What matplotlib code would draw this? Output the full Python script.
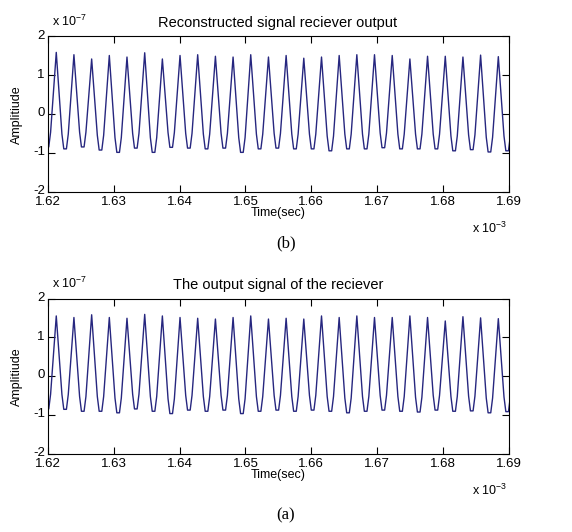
import matplotlib.pyplot as plt
from matplotlib.transforms import ScaledTranslation

plt.rcParams['font.family'] = ['Liberation Sans', 'DejaVu Sans']
plt.rcParams['mathtext.default'] = 'regular'
plt.rcParams['axes.unicode_minus'] = False

# time of each peak / trough in ms, amplitudes in units of 1e-7
peak_t = [1.62130, 1.62398, 1.62667, 1.62935, 1.63203, 1.63472, 1.63740,
          1.64008, 1.64276, 1.64545, 1.64813, 1.65081, 1.65350, 1.65618,
          1.65886, 1.66155, 1.66423, 1.66691, 1.66959, 1.67228, 1.67496,
          1.67764, 1.68033, 1.68301, 1.68569, 1.68838]
trough_t = [1.61996, 1.62264, 1.62532, 1.62801, 1.63069, 1.63337, 1.63606,
            1.63874, 1.64142, 1.64410, 1.64679, 1.64947, 1.65215, 1.65484,
            1.65752, 1.66020, 1.66289, 1.66557, 1.66825, 1.67093, 1.67362,
            1.67630, 1.67898, 1.68167, 1.68435, 1.68703, 1.68972]

# (b) reconstructed signal
peak_b = [1.59, 1.53, 1.42, 1.51, 1.47, 1.58, 1.42, 1.51, 1.53, 1.49, 1.47, 1.53,
          1.47, 1.51, 1.44, 1.47, 1.51, 1.53, 1.53, 1.51, 1.42, 1.49, 1.49, 1.47,
          1.52, 1.48]
trough_b = [-0.85, -0.90, -0.85, -0.93, -0.99, -0.88, -0.99, -0.86, -0.88, -0.90,
            -0.88, -0.99, -0.90, -0.88, -0.90, -0.90, -0.95, -0.90, -0.90, -0.87,
            -0.90, -0.90, -0.90, -0.95, -0.92, -0.98, -0.95]

# (a) receiver output
peak_a = [1.55, 1.51, 1.58, 1.51, 1.49, 1.59, 1.55, 1.51, 1.49, 1.47, 1.51, 1.55,
          1.47, 1.49, 1.47, 1.55, 1.51, 1.55, 1.51, 1.51, 1.55, 1.51, 1.42, 1.53,
          1.50, 1.48]
trough_a = [-0.85, -0.86, -0.91, -0.91, -0.95, -0.85, -0.91, -0.97, -0.88, -0.91,
            -0.88, -0.97, -0.91, -0.88, -0.91, -0.88, -0.91, -0.95, -0.91, -0.88,
            -0.91, -0.93, -0.88, -0.91, -0.90, -0.95, -0.92]

x_ticks = [1.62, 1.63, 1.64, 1.65, 1.66, 1.67, 1.68, 1.69]
x_labels = ['1.62', '1.63', '1.64', '1.65', '1.66', '1.67', '1.68', '1.69']
y_ticks = [-2, -1, 0, 1, 2]
y_labels = ['-2', '-1', '0', '1', '2']

W, H = 572, 532


def fx(x):
    return x / W


def fy(y):
    return 1 - y / H


def waveform(pt, pv, tt, tv, half=0.0002, sh=0.00048, rise=0.38):
    # flat-ish rounded bottom at every trough, straight flanks up to the peaks
    t, v = [], []
    for i in range(len(tt)):
        t += [tt[i] - sh, tt[i] - half, tt[i] + half, tt[i] + sh]
        v += [tv[i] + rise, tv[i], tv[i], tv[i] + rise]
        if i < len(pt):
            t.append(pt[i])
            v.append(pv[i])
    return t, v


fig = plt.figure(figsize=(W / 100, H / 100), dpi=100)

panels = [
    (36.5, peak_b, trough_b, 'Reconstructed signal reciever output', '(b)', 243),
    (298.5, peak_a, trough_a, 'The output signal of the reciever', '(a)', 515),
]

for top, pv, tv, title, tag, tag_y in panels:
    ax = fig.add_axes([fx(47.7), fy(top + 155), fx(461.3), 155 / H])
    t, v = waveform(peak_t, pv, trough_t, tv)
    ax.plot(t, v, color='#26267f', lw=1.0)
    ax.set_xlim(1.62, 1.69)
    ax.set_ylim(-2, 2)
    ax.set_xticks(x_ticks)
    ax.set_xticklabels(x_labels)
    ax.set_yticks(y_ticks)
    ax.set_yticklabels(y_labels)
    ax.tick_params(direction='in', top=True, right=True, length=5, width=0.8,
                   labelsize=9.5)
    ax.tick_params(axis='x', pad=3)
    ax.tick_params(axis='y', pad=2)
    lift = ScaledTranslation(0, 2 / 100, fig.dpi_scale_trans)
    for lab in ax.get_yticklabels():
        lab.set_transform(lab.get_transform() + lift)
    for s in ax.spines.values():
        s.set_linewidth(0.8)

    fig.text(fx(278), fy(top - 10), title, ha='center', va='baseline', fontsize=10.5)
    fig.text(fx(52), fy(top - 10), 'x 10$^{-7}$', ha='left', va='baseline', fontsize=9)
    fig.text(fx(17), fy(top + 78), 'Amplitiude', rotation=90, ha='center', va='center',
             fontsize=9)
    fig.text(fx(278), fy(top + 176.5), 'Time(sec)', ha='center', va='center', fontsize=9)
    fig.text(fx(490), fy(top + 192), 'x 10$^{-3}$', ha='center', va='center', fontsize=9)
    fig.text(fx(286), fy(tag_y), tag, ha='center', va='center', fontsize=12,
             family='Liberation Serif')

fig.savefig('out.png', dpi=100)
